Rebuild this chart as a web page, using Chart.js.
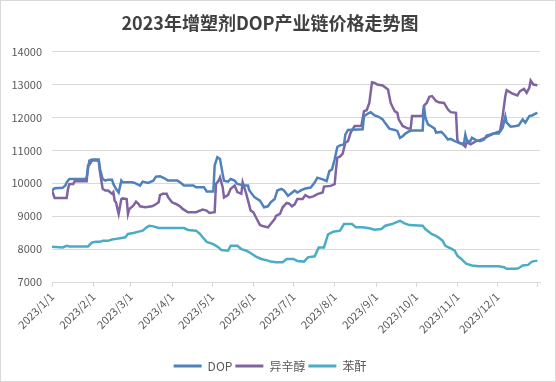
<!DOCTYPE html>
<html>
<head>
<meta charset="utf-8">
<script src="https://cdn.jsdelivr.net/npm/chart.js@4"></script>
<style>
  html, body { margin: 0; padding: 0; background: #fff; }
  #wrap { width: 556px; height: 382px; }
  canvas { outline: 1px solid #d9d9d9; outline-offset: -1px; }
</style>
</head>
<body>
<div id="wrap"><canvas id="chart" width="556" height="382"></canvas></div>
<script>
// day of year (0 = 2023/1/1) and price, yuan/ton
const dopDays = [0, 2, 8, 10, 11, 13, 25, 26, 28, 30, 35, 36, 38, 40, 42, 45, 46, 48, 50, 52, 53, 60, 62, 66, 68, 72, 76, 78, 81, 84, 87,
  94, 96, 99, 106, 108, 114, 116, 121, 122, 124, 126, 128, 129, 132, 134, 137, 139, 144, 147, 148, 152, 156, 159, 162, 164, 167, 169, 172, 174, 177, 179, 182,
  184, 187, 190, 194, 197, 199, 203, 206, 208, 210, 212, 214, 216, 219, 220, 222, 233, 234, 237, 239, 242, 245, 248, 250, 253, 257, 259, 261, 263, 265, 268, 270, 278,
  279, 280, 282, 284, 287, 288, 292, 294, 297, 299, 302, 304, 307, 309, 310, 311, 313, 315, 318, 321, 324, 326, 329, 331, 335, 338, 340, 341, 344, 348, 350, 353, 355, 358, 360, 363, 364];
const dopPrices = [9780, 9850, 9860, 9930, 10030, 10130, 10130, 10180, 10690, 10720, 10720, 10440, 10130, 10080, 10110, 10110, 9980, 9830, 9720, 10080, 10030, 10030, 10010, 9930, 10050, 10010, 10080, 10200, 10210, 10160, 10080,
  10080, 10030, 9930, 9930, 9880, 9880, 9750, 9750, 10540, 10790, 10740, 10280, 10080, 10050, 10130, 10080, 9980, 9930, 9930, 9780, 9570, 9470, 9270, 9300, 9420, 9520, 9780, 9830, 9780, 9620, 9680, 9780,
  9720, 9790, 9840, 9870, 10020, 10170, 10120, 10070, 10370, 10420, 10730, 11100, 11150, 11180, 11480, 11620, 11640, 12040, 12120, 12160, 12060, 12020, 11940, 11820, 11660, 11620, 11590, 11380, 11430, 11510, 11580, 11600, 11600,
  12350, 12000, 11790, 11740, 11660, 11540, 11560, 11480, 11330, 11350, 11280, 11250, 11210, 11210, 11480, 11330, 11230, 11380, 11310, 11280, 11330, 11450, 11480, 11510, 11510, 11690, 12030, 11840, 11720, 11740, 11760, 11940, 11840, 12040, 12060, 12120, 12140];

const eghDays = [0, 2, 11, 12, 13, 16, 17, 26, 27, 28, 30, 35, 36, 38, 40, 42, 45, 46, 47, 48, 50, 52, 53, 56, 57, 58, 61, 63, 65, 66, 70, 75, 77, 80, 81, 83, 86, 87, 90,
  93, 96, 98, 102, 108, 113, 116, 118, 122, 123, 125, 126, 128, 129, 132, 134, 137, 139, 142, 143, 145, 146, 149, 151, 153, 156, 158, 162, 164, 167, 168, 171, 173, 176, 178, 180,
  182, 184, 188, 190, 193, 196, 199, 203, 204, 209, 212, 213, 214, 216, 218, 220, 222, 224, 227, 232, 234, 236, 238, 240, 242, 244, 248, 252, 254, 257, 259, 260, 263, 267, 269, 270, 278,
  279, 281, 283, 285, 288, 290, 294, 297, 299, 303, 304, 305, 308, 310, 311, 314, 318, 321, 325, 328, 331, 336, 338, 340, 341, 345, 349, 351, 354, 356, 358, 359, 361, 364];
const eghPrices = [9780, 9550, 9550, 9830, 9980, 9980, 10060, 10060, 10540, 10560, 10690, 10690, 10335, 9830, 9780, 9780, 9680, 9730, 9470, 9420, 9070, 9520, 9540, 9520, 9070, 9220, 9320, 9440, 9370, 9300, 9270, 9300, 9340, 9420, 9640, 9680, 9680, 9580, 9420,
  9370, 9300, 9220, 9120, 9120, 9200, 9170, 9100, 9120, 9980, 10080, 10180, 9880, 9570, 9640, 9830, 9930, 9730, 9680, 10030, 9780, 9630, 9170, 9120, 8960, 8730, 8700, 8660, 8760, 8910, 9010, 9070, 9270, 9400, 9380, 9300,
  9360, 9520, 9520, 9640, 9570, 9600, 9670, 9720, 9900, 9920, 9970, 10420, 10780, 10810, 10900, 11230, 11280, 11540, 11740, 11740, 12190, 12220, 12440, 13070, 13050, 13000, 12970, 12850, 12440, 12190, 12140, 11940, 11740, 11660, 11660, 12040, 12040,
  12360, 12440, 12630, 12650, 12500, 12460, 12440, 12240, 12160, 12140, 11330, 11230, 11180, 11110, 11250, 11180, 11280, 11310, 11380, 11450, 11510, 11580, 12040, 12650, 12830, 12730, 12670, 12800, 12870, 12750, 12900, 13120, 13000, 12980];

const paDays = [0, 8, 11, 13, 27, 30, 33, 36, 38, 42, 45, 48, 51, 55, 57, 61, 65, 68, 71, 73, 76, 80, 92,
  99, 102, 108, 111, 113, 116, 121, 125, 127, 132, 134, 139, 142, 146, 150, 153, 157, 162, 164, 168, 173, 176, 181,
  184, 189, 192, 197, 200, 204, 207, 211, 216, 219, 225, 228, 233, 238, 242, 247, 250, 255, 258, 261, 264, 268, 278,
  280, 283, 285, 288, 290, 293, 295, 299, 302, 304, 307, 309, 311, 315, 320, 335, 339, 341, 348, 350, 353, 357, 360, 364];
const paPrices = [8070, 8050, 8100, 8080, 8080, 8200, 8220, 8220, 8250, 8250, 8290, 8310, 8330, 8360, 8460, 8490, 8530, 8560, 8660, 8710, 8690, 8640, 8640,
  8640, 8580, 8560, 8460, 8360, 8220, 8150, 8050, 7970, 7950, 8100, 8100, 8000, 7950, 7850, 7770, 7700, 7650, 7620, 7600, 7600, 7700, 7700,
  7640, 7620, 7750, 7780, 8050, 8050, 8450, 8530, 8560, 8760, 8760, 8660, 8660, 8630, 8590, 8610, 8710, 8760, 8810, 8860, 8790, 8730, 8710,
  8610, 8510, 8450, 8400, 8350, 8250, 8100, 8020, 7950, 7800, 7700, 7620, 7550, 7500, 7480, 7480, 7450, 7400, 7400, 7420, 7500, 7520, 7620, 7650];

const monthStarts = [0, 31, 59, 90, 120, 151, 181, 212, 243, 273, 304, 334, 364];
const tickLabels = ['2023/1/1', '2023/2/1', '2023/3/1', '2023/4/1', '2023/5/1', '2023/6/1', '2023/7/1',
  '2023/8/1', '2023/9/1', '2023/10/1', '2023/11/1', '2023/12/1', ''];

const pts = (xs, ys) => xs.map((x, i) => ({ x: x, y: ys[i] }));
const font = "'Noto Sans CJK SC', 'Noto Sans', sans-serif";

const line = (label, xs, ys, color) => ({
  label: label,
  data: pts(xs, ys),
  borderColor: color,
  backgroundColor: color,
  borderWidth: 2.5,
  pointRadius: 0,
  tension: 0,
  fill: false
});

new Chart(document.getElementById('chart'), {
  type: 'line',
  data: {
    datasets: [
      line('DOP', dopDays, dopPrices, '#4F81BD'),
      line('异辛醇', eghDays, eghPrices, '#8064A2'),
      line('苯酐', paDays, paPrices, '#4BACC6')
    ]
  },
  options: {
    responsive: false,
    animation: false,
    layout: { padding: { left: 0, right: 16, top: 0, bottom: 0 } },
    plugins: {
      title: {
        display: true,
        text: '2023年增塑剂DOP产业链价格走势图',
        color: '#404040',
        font: { family: font, size: 18, weight: 'bold' },
        padding: { top: 12, bottom: 18 }
      },
      legend: {
        position: 'bottom',
        labels: {
          boxWidth: 28,
          boxHeight: 3,
          padding: 3,
          color: '#595959',
          font: { family: font, size: 12 },
          generateLabels: chart => Chart.defaults.plugins.legend.labels.generateLabels(chart)
            .map(l => Object.assign(l, { lineWidth: 0 }))
        }
      },
      tooltip: { enabled: false }
    },
    scales: {
      x: {
        type: 'linear',
        min: 0,
        max: 366,
        afterBuildTicks: s => { s.ticks = monthStarts.map(v => ({ value: v })); },
        afterFit: s => { s.height = 75; },
        grid: { drawOnChartArea: false, drawTicks: true, tickLength: 5, color: '#d9d9d9' },
        border: { color: '#d9d9d9' },
        ticks: {
          autoSkip: false,
          minRotation: 45,
          maxRotation: 45,
          color: '#595959',
          font: { family: font, size: 11 },
          callback: (v) => tickLabels[monthStarts.indexOf(v)]
        }
      },
      y: {
        min: 7000,
        max: 14000,
        afterFit: s => { s.width = 52; },
        grid: { color: '#d9d9d9', drawTicks: false },
        border: { display: false },
        ticks: {
          stepSize: 1000,
          padding: 10,
          color: '#595959',
          font: { family: font, size: 11 },
          callback: v => String(v)
        }
      }
    }
  }
});
</script>
</body>
</html>
